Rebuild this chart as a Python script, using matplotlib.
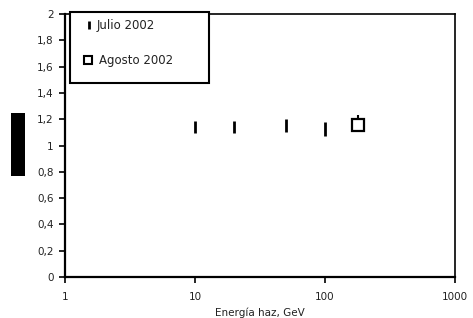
import matplotlib
matplotlib.use("Agg")
import matplotlib.pyplot as plt
from matplotlib.patches import Rectangle

# Data
julio_energy = [10, 20, 50, 100]
julio_ratio = [1.14, 1.14, 1.155, 1.125]
julio_err = [0.048, 0.048, 0.05, 0.05]
agosto_energy = [178]
agosto_ratio = [1.155]
agosto_err_low = [0.03]
agosto_err_high = [0.08]
yticks = [0, 0.2, 0.4, 0.6, 0.8, 1.0, 1.2, 1.4, 1.6, 1.8, 2.0]
ytick_labels = ["0", "0,2", "0,4", "0,6", "0,8", "1", "1,2", "1,4", "1,6", "1,8", "2"]
xticks = [1, 10, 100, 1000]
xtick_labels = ["1", "10", "100", "1000"]
legend_labels = ["Julio 2002", "Agosto 2002"]

plt.rcParams['font.family'] = ['DejaVu Sans']
fig = plt.figure(figsize=(4.73, 3.18), dpi=100)
ax = fig.add_axes([65/473, 41/318, 390/473, 263/318])

ax.errorbar(julio_energy, julio_ratio, yerr=julio_err, fmt='none', ecolor='black',
            elinewidth=2.0, capsize=0)
ax.errorbar(agosto_energy, agosto_ratio, yerr=[agosto_err_low, agosto_err_high], fmt='s',
            mfc='white', mec='black', mew=1.6, ms=8.6, ecolor='black', elinewidth=1.5,
            capsize=0, zorder=3)

ax.set_xscale('log')
ax.set_xlim(1, 1000)
ax.set_ylim(0, 2)
ax.set_xticks(xticks)
ax.set_xticklabels(xtick_labels)
ax.xaxis.set_minor_locator(matplotlib.ticker.NullLocator())
ax.set_yticks(yticks)
ax.set_yticklabels(ytick_labels)
ax.tick_params(axis='both', direction='out', length=4, width=1.2, labelsize=7.5, pad=4,
               top=False, right=False, labelcolor='#222222')
ax.tick_params(axis='x', pad=7)
for s in ax.spines.values():
    s.set_linewidth(1.2)
ax.spines['left'].set_linewidth(1.6)
ax.spines['bottom'].set_linewidth(1.6)
ax.set_xlabel("Energía haz, GeV", fontsize=7.5, labelpad=4, color='#222222')

# Manual legend box
tr = ax.transAxes
ax.add_patch(Rectangle((0.013, 0.738), 0.356, 0.27, transform=tr, facecolor='white',
                       edgecolor='black', linewidth=1.5, clip_on=False, zorder=5))
ax.plot([0.0615], [0.958], transform=tr, marker='|', ms=6, mew=2, color='black',
        clip_on=False, zorder=6, ls='none')
ax.text(0.082, 0.958, legend_labels[0], transform=tr, fontsize=8.5, va='center',
        ha='left', zorder=6, color='#222222')
ax.plot([0.059], [0.825], transform=tr, marker='s', ms=6, mew=1.5, mfc='white',
        mec='black', clip_on=False, zorder=6, ls='none')
ax.text(0.087, 0.825, legend_labels[1], transform=tr, fontsize=8.5, va='center',
        ha='left', zorder=6, color='#222222')

fig.patches.append(Rectangle((11/473, 1 - 176/318), 14/473, 63/318, transform=fig.transFigure,
                             facecolor='black', edgecolor='none'))

fig.savefig("out.png", dpi=100)
